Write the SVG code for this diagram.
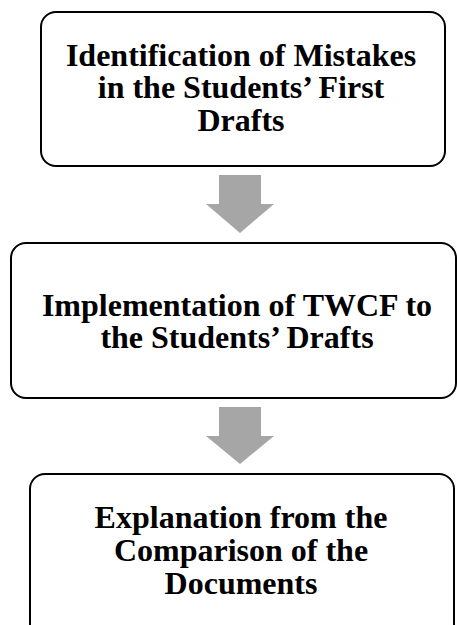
<svg xmlns="http://www.w3.org/2000/svg" width="457" height="625" viewBox="0 0 457 625">
  <style>
    .box { fill: #ffffff; stroke: #000000; stroke-width: 2; }
    .label { font-family: "Liberation Serif", "Times New Roman", serif; font-weight: bold; font-size: 32px; fill: #000000; text-anchor: middle; }
    .arrow { fill: #a6a6a6; stroke: none; }
  </style>
  <rect width="457" height="625" fill="#ffffff"/>

  <g id="connectors">
    <path class="arrow" d="M219,175 H261 V204 H274 L240,233 L206,204 H219 Z"/>
    <path class="arrow" d="M219,407 H261 V436 H274 L240,464 L206,436 H219 Z"/>
  </g>

  <g id="step1">
    <rect class="box" x="41" y="12" width="404" height="154" rx="15" ry="15"/>
    <text class="label" x="241" y="66">Identification of Mistakes</text>
    <text class="label" x="241" y="98">in the Students’ First</text>
    <text class="label" x="241" y="131">Drafts</text>
  </g>

  <g id="step2">
    <rect class="box" x="11" y="243" width="445" height="155" rx="15" ry="15"/>
    <text class="label" x="237" y="316">Implementation of TWCF to</text>
    <text class="label" x="237" y="348">the Students’ Drafts</text>
  </g>

  <g id="step3">
    <rect class="box" x="30" y="474" width="424" height="170" rx="15" ry="15"/>
    <text class="label" x="241" y="528">Explanation from the</text>
    <text class="label" x="241" y="561">Comparison of the</text>
    <text class="label" x="241" y="594">Documents</text>
  </g>
</svg>
